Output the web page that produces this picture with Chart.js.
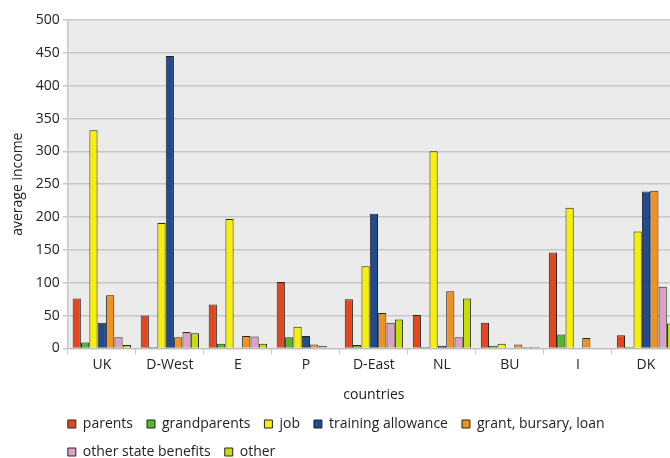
<!DOCTYPE html>
<html>
<head>
<meta charset="utf-8">
<script src="https://cdn.jsdelivr.net/npm/chart.js@4/dist/chart.umd.min.js"></script>
<style>
  html, body { margin: 0; padding: 0; background: #fff; overflow: hidden; }
  #wrap { width: 670px; height: 458px; overflow: hidden; }
  #box { width: 682px; height: 469px; position: relative; }
</style>
</head>
<body>
<div id="wrap"><div id="box"><canvas id="incomeChart"></canvas></div></div>
<script>
const countries = ['UK', 'D-West', 'E', 'P', 'D-East', 'NL', 'BU', 'I', 'DK'];
const parents = [76, 50, 67, 101, 75, 51, 39, 146, 20];
const grandparents = [9, 2, 7, 17, 5, 2, 4, 21, 2];
const job = [332, 191, 197, 33, 125, 300, 7, 214, 178];
const trainingAllowance = [39, 445, 1, 19, 205, 4, 1, 1, 239];
const grantBursaryLoan = [81, 17, 19, 6, 54, 87, 6, 16, 240];
const otherStateBenefits = [17, 25, 18, 4, 39, 17, 2, 0, 94];
const other = [5, 23, 7, 1, 44, 76, 2, 1, 38];

const yMin = 0;
const yMax = 500;
const yStep = 50;

const FONT = '"Open Sans", "Liberation Sans", sans-serif';

// moves the legend so it lines up with the left edge of the plot
const legendShift = {
  id: 'legendShift',
  beforeDraw(chart) {
    chart.legend.left = chart.chartArea.left - 14;
  }
};

const plotBackground = {
  id: 'plotBackground',
  beforeDraw(chart) {
    const { ctx, chartArea } = chart;
    ctx.save();
    ctx.fillStyle = '#ebebeb';
    ctx.fillRect(chartArea.left, chartArea.top, chartArea.right - chartArea.left, chartArea.bottom - chartArea.top);
    ctx.restore();
  }
};

function series(label, data, color) {
  return {
    label,
    data,
    backgroundColor: color,
    borderColor: '#262626',
    borderWidth: 1,
    categoryPercentage: 0.86,
    barPercentage: 0.98
  };
}

new Chart(document.getElementById('incomeChart'), {
  type: 'bar',
  data: {
    labels: countries,
    datasets: [
      series('parents', parents, '#e2471f'),
      series('grandparents', grandparents, '#55b62c'),
      series('job', job, '#f7f000'),
      series('training allowance', trainingAllowance, '#224a8f'),
      series('grant, bursary, loan', grantBursaryLoan, '#ef921f'),
      series('other state benefits', otherStateBenefits, '#dda1c3'),
      series('other', other, '#c7dc06')
    ]
  },
  options: {
    responsive: true,
    maintainAspectRatio: false,
    animation: false,
    layout: { padding: { top: 20, right: 2, left: 6, bottom: 0 } },
    plugins: {
      tooltip: { enabled: false },
      legend: {
        position: 'bottom',
        align: 'start',
        labels: {
          boxWidth: 8,
          boxHeight: 8,
          padding: 14,
          color: '#222',
          font: { family: FONT, size: 14 }
        }
      }
    },
    scales: {
      x: {
        grid: {
          drawOnChartArea: false,
          offset: true,
          tickLength: 6,
          color: '#c8c8c8'
        },
        border: { color: '#bdbdbd', width: 1 },
        ticks: { color: '#222', padding: 2, font: { family: FONT, size: 14 } },
        title: {
          display: true,
          text: 'countries',
          color: '#222',
          padding: { top: 11, bottom: 0 },
          font: { family: FONT, size: 14 }
        }
      },
      y: {
        min: yMin,
        max: yMax,
        grid: { color: '#c8c8c8', lineWidth: 1.5, tickLength: 5 },
        border: { color: '#c8c8c8', width: 1.5 },
        ticks: { stepSize: yStep, color: '#222', padding: 3, font: { family: FONT, size: 14 } },
        title: {
          display: true,
          text: 'average income',
          color: '#222',
          padding: { bottom: 6 },
          font: { family: FONT, size: 14 }
        }
      }
    }
  },
  plugins: [plotBackground, legendShift]
});
</script>
</body>
</html>
